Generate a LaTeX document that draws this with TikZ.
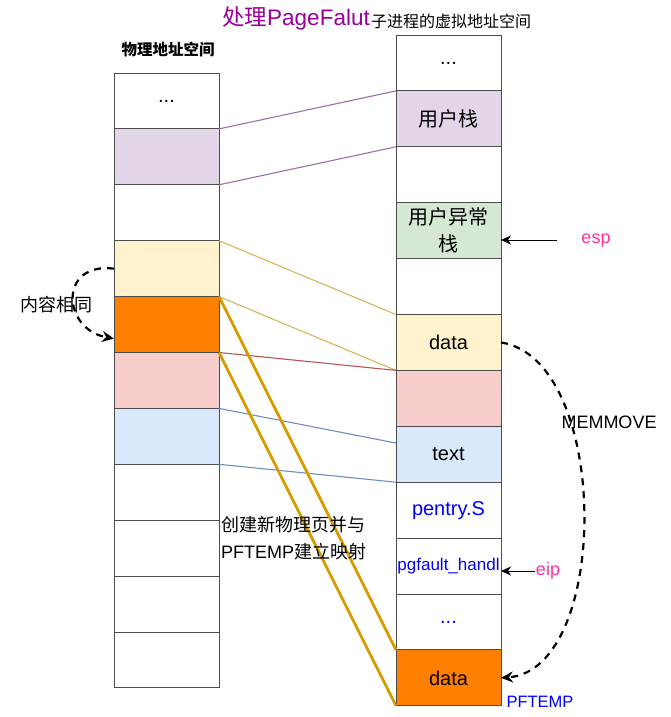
\documentclass[tikz,border=0pt]{standalone}
\usepackage{fontspec}
\setmainfont{Liberation Sans}
\newfontfamily\cjk{Noto Sans CJK SC}
\usetikzlibrary{positioning, arrows.meta, calc}

\definecolor{purpleFill}{HTML}{E1D5E7}
\definecolor{purpleLine}{HTML}{9673A6}
\definecolor{yellowFill}{HTML}{FFF2CC}
\definecolor{yellowLine}{HTML}{D6B656}
\definecolor{pinkFill}{HTML}{F8CECC}
\definecolor{redLine}{HTML}{B85450}
\definecolor{blueFill}{HTML}{DAE8FC}
\definecolor{blueLine}{HTML}{6C8EBF}
\definecolor{greenFill}{HTML}{D5E8D4}
\definecolor{orangeFill}{HTML}{FF8000}
\definecolor{goldLine}{HTML}{D79B00}
\definecolor{titlePurple}{HTML}{990099}
\definecolor{regPink}{HTML}{FF3399}
\definecolor{codeBlue}{HTML}{0000FF}

\begin{document}
\begin{tikzpicture}[
        x=1pt, y=-1pt,
        node distance=0pt,
        cell/.style={draw=black!70, line width=0.9pt, minimum width=105pt,
                     minimum height=55.9pt, inner sep=0pt, outer sep=0pt,
                     align=center, font=\fontsize{20}{25}\selectfont},
        zh/.style={font=\cjk\fontsize{20}{27}\selectfont},
        note/.style={font=\cjk\fontsize{18}{27}\selectfont},
        reg/.style={text=regPink, font=\fontsize{18}{22}\selectfont},
        map/.style={line width=1.1pt},
        copyline/.style={draw=goldLine, line width=2.8pt},
        ptr/.style={-{Stealth[length=10pt, width=9pt, inset=3pt]}, line width=1pt},
        same/.style={-{Stealth[length=12pt, width=11pt, inset=4pt]}, line width=2.2pt,
                     dash pattern=on 7pt off 6pt},
    ]
        \useasboundingbox (0,0) rectangle (670,717);

        % physical address space
        \node[cell, anchor=north west] (l1) at (114,73) {...};
        \node[cell, fill=purpleFill, below=of l1] (l2) {};
        \node[cell, below=of l2] (l3) {};
        \node[cell, fill=yellowFill, below=of l3] (l4) {};
        \node[cell, fill=orangeFill, below=of l4] (l5) {};
        \node[cell, fill=pinkFill, below=of l5] (l6) {};
        \node[cell, fill=blueFill, below=of l6] (l7) {};
        \node[cell, below=of l7] (l8) {};
        \node[cell, below=of l8] (l9) {};
        \node[cell, below=of l9] (l10) {};
        \node[cell, below=of l10] (l11) {};

        % child virtual address space
        \node[cell, anchor=north west] (r1) at (396,35) {...};
        \node[cell, zh, fill=purpleFill, below=of r1] (r2) {用户栈};
        \node[cell, below=of r2] (r3) {};
        \node[cell, zh, fill=greenFill, below=of r3] (r4) {用户异常\\栈};
        \node[cell, below=of r4] (r5) {};
        \node[cell, fill=yellowFill, below=of r5] (r6) {data};
        \node[cell, fill=pinkFill, below=of r6] (r7) {};
        \node[cell, fill=blueFill, below=of r7] (r8) {text};
        \node[cell, text=codeBlue, below=of r8] (r9) {pentry.S};
        \node[cell, text=codeBlue, font=\fontsize{17}{20}\selectfont, below=of r9] (r10) {pgfault\_handl};
        \node[cell, text=codeBlue, below=of r10] (r11) {...};
        \node[cell, fill=orangeFill, below=of r11] (r12) {data};

        % titles
        \node[text=titlePurple, font=\fontsize{22.5}{26}\selectfont, anchor=base] (title) at (296,26)
            {{\cjk 处理}PageFalut};
        \node[font=\cjk\fontsize{16}{19}\selectfont, anchor=base] (vspace) at (451,28) {子进程的虚拟地址空间};
        \node[font=\cjk\bfseries\fontsize{15.5}{18}\selectfont] (pspace) at (168,50) {物理地址空间};

        % mappings
        \draw[map, purpleLine] (l2.north east) -- (r2.north west);
        \draw[map, purpleLine] (l3.north east) -- (r3.north west);
        \draw[map, yellowLine] (l4.north east) -- (r6.north west);
        \draw[map, yellowLine] (l5.north east) -- (r7.north west);
        \draw[map, redLine] (l6.north east) -- (r7.north west);
        \draw[map, blueLine] (l7.north east) -- ($(r8.north west)!0.3!(r8.south west)$);
        \draw[map, blueLine] (l8.north east) -- (r9.north west);
        \draw[copyline] (l5.north east) -- (r12.north west);
        \draw[copyline] (l6.north east) -- (r12.south west);

        % same content
        \draw[same] (l4.west) .. controls +(-56,-7) and +(-52,-9) .. ([yshift=-14pt]l5.west);
        \node[note] (samelbl) at (56,305) {内容相同};

        % memmove
        \draw[same] (r6.east) .. controls +(110,17) and +(110,-8) .. (r12.east);
        \node[font=\fontsize{18}{22}\selectfont] (memmove) at (609,422) {MEMMOVE};

        % registers
        \node[reg] (esp) at (596,241) {esp};
        \coordinate (espTail) at (557,240);
        \draw[ptr] (espTail) -- (espTail -| r4.east);
        \node[reg, inner sep=1pt] (eip) at (548,571) {eip};
        \draw[ptr] (eip.west) -- (eip.west -| r10.east);
        \node[text=codeBlue, font=\fontsize{16.5}{20}\selectfont] (pftemp) at (540,702) {PFTEMP};

        \node[note, align=left, anchor=west, inner sep=0pt] (newpage) at (221,538)
            {创建新物理页并与\\{\rmfamily PFTEMP}建立映射};
    \end{tikzpicture}
\end{document}
